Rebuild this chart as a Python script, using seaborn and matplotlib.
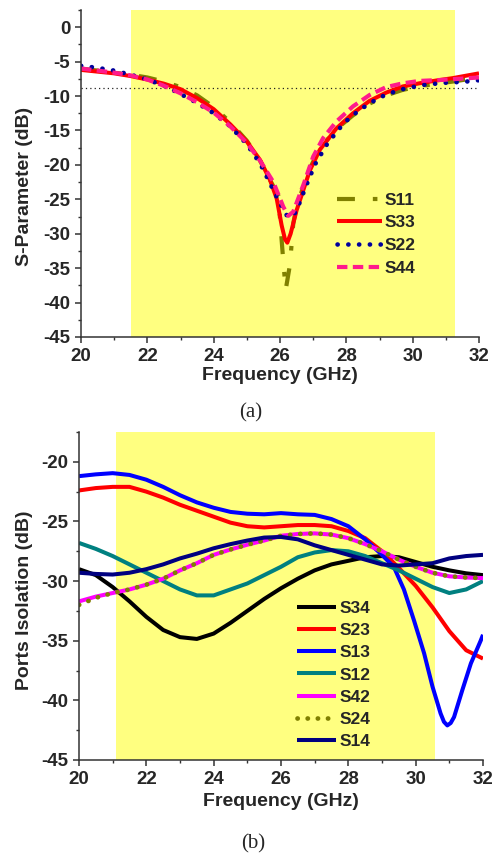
import numpy as np
import pandas as pd
import matplotlib
matplotlib.use('Agg')
import matplotlib.pyplot as plt
import seaborn as sns
from matplotlib.ticker import MultipleLocator

# ---------------- data: panel (a) ----------------
f_s11 = [20, 21, 21.5, 22, 22.5, 23, 23.5, 24, 24.5, 25, 25.4, 25.7, 25.95, 26.05, 26.17, 26.3, 26.4,
         26.5, 26.7, 26.9, 27.2, 27.7, 28.2, 28.7, 29.2, 29.7, 30.2, 30.7, 31.2, 32]
s11 = [-6.0, -6.6, -6.9, -7.3, -7.9, -8.7, -9.9, -11.6, -13.8, -16.5, -19.4, -22.2, -24.5, -31.0, -38.2,
       -34.5, -28.5, -26.0, -23.2, -20.5, -17.6, -14.8, -12.8, -11.1, -9.9, -9.1, -8.6, -8.2, -7.9, -7.3]

f_s33 = [20, 21, 21.5, 22, 22.5, 23, 23.5, 24, 24.5, 25, 25.4, 25.7, 25.9, 26.05, 26.15, 26.22, 26.32,
         26.5, 26.7, 26.9, 27.2, 27.7, 28.2, 28.7, 29.2, 29.7, 30.2, 30.7, 31.2, 32]
s33 = [-6.2, -6.7, -7.1, -7.6, -8.2, -9.0, -10.3, -11.9, -14.1, -16.6, -19.3, -22.2, -24.9, -28.8, -30.8,
       -31.3, -30.0, -26.6, -23.7, -20.8, -17.8, -14.7, -12.5, -10.7, -9.5, -8.6, -8.15, -7.75, -7.4, -6.7]

f_s22 = [20, 20.5, 21, 21.5, 22, 22.5, 23, 23.5, 24, 24.5, 25, 25.4, 25.7, 25.85, 26.05, 26.2, 26.4,
         26.55, 26.8, 27.06, 27.43, 27.93, 28.4, 29.0, 29.6, 30.3, 30.9, 31.6, 32]
s22 = [-5.6, -5.9, -6.3, -6.9, -7.6, -8.5, -9.7, -11.0, -12.5, -14.4, -17.0, -19.8, -22.7, -24.2, -26.0,
       -27.3, -27.5, -26.0, -22.9, -19.9, -16.9, -13.9, -12.0, -10.2, -9.1, -8.4, -8.1, -7.9, -7.7]

f_s44 = [20, 21, 21.5, 22, 22.5, 23, 23.5, 24, 24.5, 25, 25.4, 25.8, 26.1, 26.25, 26.4, 26.72, 27.0,
         27.3, 27.7, 28.2, 28.7, 29.2, 29.7, 30.2, 30.9, 32]
s44 = [-6.0, -6.6, -7.0, -7.6, -8.5, -9.6, -10.9, -12.4, -14.4, -16.8, -19.4, -22.5, -26.1, -27.4, -26.8,
       -22.7, -18.8, -16.1, -13.7, -11.5, -9.85, -8.7, -8.15, -7.8, -7.65, -7.3]

ref_level_a = -8.9
band_a = (21.5, 31.27)

# ---------------- data: panel (b) ----------------
f_b = [20, 20.5, 21, 21.5, 22, 22.5, 23, 23.5, 24, 24.5, 25, 25.5, 26, 26.5, 27, 27.5, 28, 28.5,
       29, 29.5, 30, 30.5, 31, 31.5, 32]
s34 = [-29.0, -29.5, -30.5, -31.7, -33.0, -34.1, -34.7, -34.85, -34.4, -33.5, -32.5, -31.5, -30.6, -29.8,
       -29.1, -28.6, -28.3, -28.0, -27.9, -28.0, -28.4, -28.8, -29.1, -29.35, -29.5]
s23 = [-22.4, -22.2, -22.1, -22.1, -22.5, -23.0, -23.6, -24.1, -24.6, -25.1, -25.4, -25.5, -25.4, -25.3,
       -25.3, -25.4, -25.8, -26.4, -27.5, -28.9, -30.4, -32.2, -34.2, -35.8, -36.5]
f_s13 = [20, 20.5, 21, 21.5, 22, 22.5, 23, 23.5, 24, 24.5, 25, 25.5, 26, 26.5, 27, 27.5, 28, 28.5,
         28.96, 29.35, 29.65, 29.95, 30.25, 30.5, 30.74, 30.84, 30.94, 31.04, 31.14, 31.39, 31.64,
         31.93, 32]
s13 = [-21.2, -21.05, -20.95, -21.1, -21.5, -22.1, -22.8, -23.4, -23.85, -24.2, -24.35, -24.4, -24.3,
       -24.4, -24.45, -24.8, -25.4, -26.5, -27.7, -28.8, -30.7, -33.3, -36.05, -38.85, -41.1, -41.8,
       -42.1, -41.9, -41.4, -39.1, -36.9, -35.0, -34.5]
s12 = [-26.8, -27.3, -27.9, -28.6, -29.3, -30.0, -30.7, -31.2, -31.2, -30.7, -30.2, -29.5, -28.8, -28.0,
       -27.6, -27.4, -27.5, -27.9, -28.5, -29.1, -29.8, -30.5, -31.0, -30.7, -30.0]
s42 = [-31.7, -31.3, -31.0, -30.7, -30.3, -29.8, -29.1, -28.5, -27.8, -27.35, -26.95, -26.6, -26.2, -26.05,
       -26.0, -26.1, -26.4, -26.9, -27.5, -28.2, -28.8, -29.3, -29.6, -29.7, -29.75]
s24 = [-32.0, -31.4, -31.0, -30.7, -30.3, -29.8, -29.1, -28.5, -27.8, -27.35, -26.95, -26.6, -26.2, -26.05,
       -26.0, -26.1, -26.4, -26.9, -27.5, -28.2, -28.8, -29.3, -29.6, -29.7, -29.75]
s14 = [-29.3, -29.4, -29.45, -29.3, -29.0, -28.6, -28.1, -27.7, -27.25, -26.9, -26.6, -26.35, -26.3, -26.5,
       -27.0, -27.4, -27.8, -28.2, -28.6, -28.7, -28.6, -28.5, -28.1, -27.9, -27.8]
band_b = (21.1, 30.58)

# ---------------- style ----------------
sns.set_style('ticks')
plt.rcParams['font.family'] = ['Liberation Sans', 'DejaVu Sans']
plt.rcParams['font.weight'] = 'bold'
plt.rcParams['axes.unicode_minus'] = False

YELLOW = '#ffff80'
TICK_FS = 13.5
LAB_FS = 14
LEG_FS = 12.5

fig = plt.figure(figsize=(5.01, 8.57), dpi=100)
ax1 = fig.add_axes([0.1617, 0.6068, 0.7944, 0.3815])
ax2 = fig.add_axes([0.1577, 0.1132, 0.8064, 0.3827])


def line(ax, f, v, name, color, lw, ls='-', cap='butt'):
    df = pd.DataFrame({'f': f, 'v': v})
    sns.lineplot(data=df, x='f', y='v', ax=ax, color=color, lw=lw, linestyle=ls,
                 estimator=None, sort=False, label=name)
    ln = ax.lines[-1]
    ln.set_dash_capstyle(cap)
    ln.set_solid_capstyle('butt')
    ln.set_solid_joinstyle('round')
    return ln


# ---- panel (a)
ax1.axvspan(*band_a, color=YELLOW, lw=0, zorder=0)
ax1.axhline(ref_level_a, color='#222222', lw=0.9, ls=(0, (1, 2.5)), zorder=1)
h = []
h.append(line(ax1, f_s11, s11, 'S11', '#808000', 3.0, (0, (4.3, 4.3, 1.1, 4.3))))
h.append(line(ax1, f_s33, s33, 'S33', '#ff0000', 2.9))
h.append(line(ax1, f_s22, s22, 'S22', '#00009c', 3.3, (0, (0.05, 2.3)), 'round'))
h.append(line(ax1, f_s44, s44, 'S44', '#ff1a8c', 3.0, (0, (2.5, 1.3))))
ax1.legend(handles=h, loc='upper left', bbox_to_anchor=(0.643, 0.442), frameon=False,
           borderpad=0, borderaxespad=0, handlelength=2.6, handletextpad=0.12,
           labelspacing=0.44, prop={'size': LEG_FS, 'weight': 'bold'})

ax1.set_xlim(20, 32)
ax1.set_ylim(-45, 2.5)
ax1.set_xlabel('Frequency (GHz)', fontsize=LAB_FS, fontweight='bold', labelpad=2)
ax1.set_ylabel('S-Parameter (dB)', fontsize=LAB_FS, fontweight='bold')
ax1.yaxis.set_label_coords(-0.12, 0.46)

# ---- panel (b)
ax2.axvspan(*band_b, color=YELLOW, lw=0, zorder=0)
h = []
h.append(line(ax2, f_b, s34, 'S34', '#000000', 2.9))
h.append(line(ax2, f_b, s23, 'S23', '#ff0000', 2.9))
h.append(line(ax2, f_s13, s13, 'S13', '#0000ff', 2.9))
h.append(line(ax2, f_b, s12, 'S12', '#008080', 2.9))
h.append(line(ax2, f_b, s42, 'S42', '#ff00ff', 2.9))
h.append(line(ax2, f_b, s24, 'S24', '#808000', 3.4, (0, (0.05, 2.1)), 'round'))
h.append(line(ax2, f_b, s14, 'S14', '#000080', 2.9))
ax2.legend(handles=h, loc='upper left', bbox_to_anchor=(0.54, 0.486), frameon=False,
           borderpad=0, borderaxespad=0, handlelength=2.25, handletextpad=0.22,
           labelspacing=0.41, prop={'size': LEG_FS, 'weight': 'bold'})

ax2.set_xlim(20, 32)
ax2.set_ylim(-45, -17.5)
ax2.set_xlabel('Frequency (GHz)', fontsize=LAB_FS, fontweight='bold', labelpad=4)
ax2.set_ylabel('Ports Isolation (dB)', fontsize=LAB_FS, fontweight='bold')
ax2.yaxis.set_label_coords(-0.114, 0.488)

for ax in (ax1, ax2):
    ax.xaxis.set_major_locator(MultipleLocator(2))
    ax.xaxis.set_minor_locator(MultipleLocator(1))
    ax.yaxis.set_major_locator(MultipleLocator(5))
    ax.yaxis.set_minor_locator(MultipleLocator(2.5))
    ax.tick_params(which='major', direction='out', length=4.2, width=1.1, color='#333333',
                   labelsize=TICK_FS, pad=3.5)
    ax.tick_params(which='minor', direction='out', length=2.5, width=1.0, color='#333333')
    for lab in ax.get_xticklabels() + ax.get_yticklabels():
        lab.set_fontweight('bold')
    sns.despine(ax=ax)
    for sp in ('left', 'bottom'):
        ax.spines[sp].set_linewidth(1.1)
        ax.spines[sp].set_color('#333333')
    ax.set_facecolor('white')

fig.text(0.5, 1 - 413 / 857, '(a)', ha='center', va='center', fontsize=15,
         family=['Liberation Serif', 'DejaVu Serif'], fontweight='normal')
fig.text(0.505, 1 - 844 / 857, '(b)', ha='center', va='center', fontsize=15,
         family=['Liberation Serif', 'DejaVu Serif'], fontweight='normal')

fig.savefig('out.png', dpi=100)
